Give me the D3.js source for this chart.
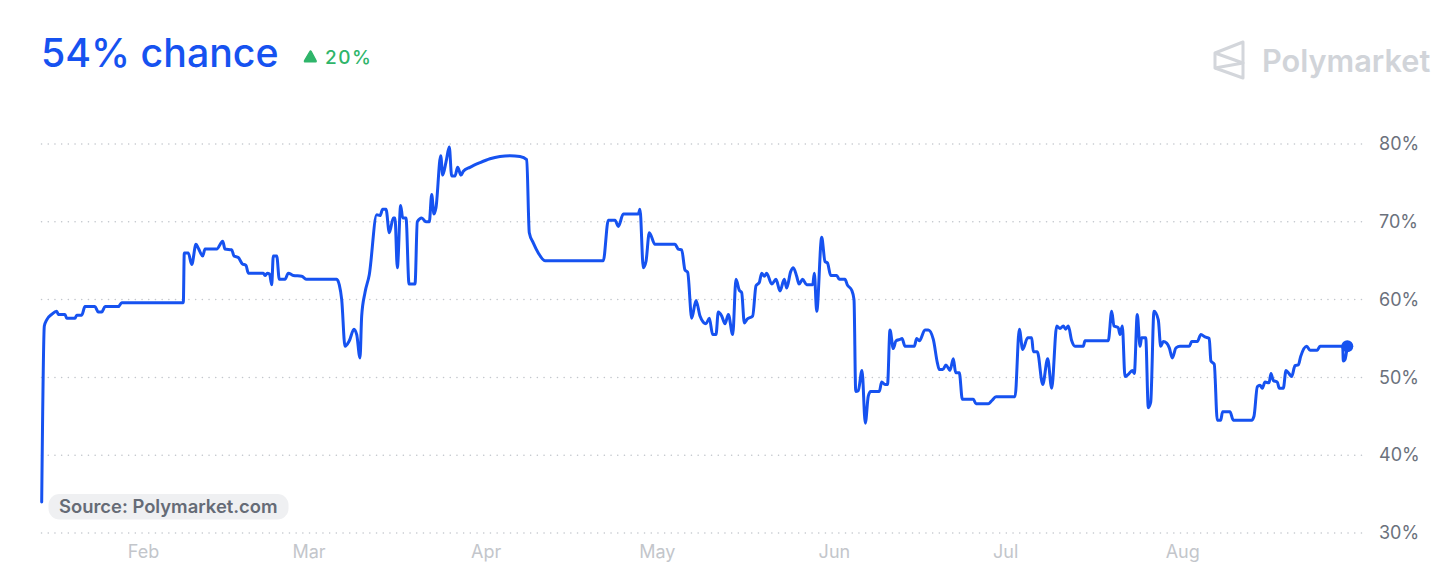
<!DOCTYPE html>
<html>
<head>
<meta charset="utf-8">
<script src="https://cdn.jsdelivr.net/npm/d3@7"></script>
<style>
  html, body { margin: 0; padding: 0; background: #ffffff; }
  svg { display: block; font-family: Inter, "Noto Sans", "DejaVu Sans", sans-serif; }
</style>
</head>
<body>
<svg id="chart" width="1456" height="584"></svg>
<script>
// Market probability history (percent), sampled as fractional days since 2024-01-14 (UTC)
const seriesStart = Date.UTC(2024, 0, 14);
const seriesEnd = Date.UTC(2024, 7, 30);

const dayOffsets = [
  0, 0.46, 0.88, 1.75, 2.63, 2.91, 4.08, 4.38, 5.83, 6.13,
  7.01, 7.58, 9.33, 9.91, 10.51, 11.09, 13.42, 14.01, 24.80, 24.97,
  25.67, 26.27, 27.02, 27.43, 28.20, 28.60, 30.65, 31.70, 32.10, 33.27,
  33.68, 34.43, 35.13, 35.78, 36.18, 38.81, 39.11, 39.51, 39.90, 40.28,
  40.56, 41.16, 41.61, 42.61, 43.19, 44.06, 45.53, 46.41, 51.66, 52.12,
  52.54, 53.12, 53.87, 54.69, 55.17, 55.74, 56.04, 56.62, 57.37, 58.67,
  59.25, 59.72, 60.30, 60.88, 61.58, 61.87, 62.28, 62.87, 63.22, 63.80,
  64.33, 65.38, 65.78, 66.55, 67.30, 67.88, 68.30, 68.70, 69.05, 69.88,
  70.23, 70.81, 71.38, 71.80, 72.38, 72.85, 73.43, 73.84, 75.00, 76.76,
  78.51, 80.26, 82.01, 83.77, 84.94, 85.39, 86.09, 86.97, 88.14, 98.35,
  99.23, 100.40, 100.98, 101.86, 104.48, 104.78, 105.36, 105.83, 106.41, 107.41,
  110.91, 111.49, 112.08, 112.66, 113.13, 113.84, 114.59, 115.29, 115.87, 116.34,
  116.92, 117.51, 118.09, 118.49, 119.09, 119.67, 120.25, 121.02, 121.59, 122.17,
  122.59, 123.05, 123.57, 124.52, 125.10, 125.67, 126.09, 126.55, 126.97, 127.85,
  128.60, 129.30, 130.05, 130.47, 131.17, 131.63, 132.22, 132.63, 133.27, 133.98,
  135.03, 135.31, 135.73, 136.60, 137.18, 137.62, 138.18, 139.23, 139.68, 140.68,
  141.09, 141.86, 142.26, 142.56, 143.01, 143.66, 144.24, 144.76, 145.18, 146.69,
  147.11, 147.69, 148.13, 148.56, 149.14, 149.61, 150.32, 150.67, 151.19, 152.82,
  153.24, 153.70, 154.69, 155.27, 156.15, 156.85, 157.20, 157.79, 158.37, 159.07,
  159.65, 160.07, 160.70, 161.23, 163.15, 163.63, 165.78, 166.37, 167.13, 170.46,
  171.21, 171.80, 172.68, 173.38, 173.66, 174.36, 175.31, 176.18, 176.88, 177.76,
  178.34, 178.91, 179.33, 179.79, 180.39, 180.96, 182.42, 182.71, 186.79, 187.39,
  187.79, 188.54, 188.84, 189.25, 189.72, 190.30, 191.00, 191.35, 191.87, 192.35,
  192.64, 193.35, 193.80, 194.22, 194.80, 195.55, 195.97, 196.43, 197.02, 197.48,
  198.00, 198.65, 199.35, 200.98, 201.40, 202.37, 203.02, 203.72, 204.47, 204.77,
  205.35, 205.88, 206.47, 206.82, 208.10, 208.68, 211.90, 212.31, 212.89, 213.36,
  213.77, 214.24, 214.94, 215.29, 215.69, 216.39, 216.74, 217.44, 217.92, 218.44,
  218.91, 219.49, 220.07, 220.49, 221.54, 222.12, 223.40, 223.87, 227.85, 227.95,
  228.25, 228.65
];

const chance = [
  34.0, 56.6, 57.4, 58.1, 58.5, 58.1, 58.1, 57.6, 57.6, 58.0,
  58.0, 59.1, 59.1, 58.4, 58.4, 59.1, 59.1, 59.6, 59.6, 66.0,
  66.0, 64.5, 67.1, 66.6, 65.6, 66.5, 66.5, 67.5, 66.5, 66.4,
  65.6, 65.4, 64.6, 64.4, 63.4, 63.4, 63.1, 63.4, 63.3, 61.9,
  65.6, 65.6, 62.6, 62.6, 63.4, 63.1, 63.0, 62.6, 62.6, 61.9,
  60.0, 54.0, 54.7, 56.2, 55.5, 52.5, 57.9, 60.9, 63.2, 70.9,
  70.8, 71.6, 71.6, 68.6, 70.5, 70.5, 64.1, 72.1, 70.5, 70.5,
  62.0, 62.0, 70.0, 70.5, 70.0, 70.0, 73.5, 71.0, 71.8, 78.5,
  76.0, 77.7, 79.6, 75.9, 75.9, 77.0, 76.0, 76.5, 77.0, 77.6,
  78.1, 78.4, 78.5, 78.4, 78.0, 68.6, 67.3, 66.0, 65.0, 65.0,
  70.2, 70.2, 69.4, 71.0, 71.0, 71.6, 64.1, 64.9, 68.6, 67.1,
  67.1, 66.5, 66.4, 63.8, 63.5, 57.6, 59.9, 57.9, 57.1, 56.9,
  57.6, 55.5, 55.5, 58.4, 57.9, 56.9, 58.1, 55.5, 62.6, 61.2,
  60.9, 57.0, 57.5, 57.9, 61.8, 62.2, 63.4, 63.0, 63.4, 62.0,
  62.6, 61.1, 62.6, 61.5, 63.6, 64.1, 63.0, 62.0, 62.6, 61.9,
  61.9, 63.4, 58.5, 68.0, 64.9, 64.7, 63.1, 63.1, 62.6, 62.6,
  61.9, 61.2, 60.0, 48.2, 48.3, 50.9, 44.1, 47.6, 48.2, 48.2,
  49.4, 49.1, 49.1, 56.1, 53.7, 54.7, 54.9, 55.0, 54.0, 54.0,
  55.0, 54.7, 56.1, 56.1, 54.9, 51.9, 51.0, 51.0, 51.6, 50.9,
  52.4, 50.6, 50.6, 47.2, 47.2, 46.6, 46.6, 47.0, 47.5, 47.5,
  56.2, 53.6, 55.1, 55.1, 53.3, 53.3, 49.1, 52.4, 48.6, 56.6,
  56.3, 56.6, 56.2, 56.6, 54.7, 54.0, 54.0, 54.7, 54.7, 58.5,
  56.6, 56.4, 55.5, 56.6, 50.1, 50.4, 50.9, 50.5, 58.1, 54.0,
  55.1, 55.1, 46.1, 46.8, 58.5, 57.4, 54.0, 54.6, 54.4, 53.8,
  52.5, 53.8, 54.0, 54.0, 54.6, 54.6, 55.5, 55.2, 55.0, 52.1,
  51.7, 44.5, 44.5, 45.6, 45.6, 44.5, 44.5, 45.0, 48.8, 49.0,
  48.6, 49.4, 49.3, 50.5, 49.6, 49.4, 48.6, 48.6, 50.9, 50.5,
  50.1, 51.5, 51.6, 52.7, 54.0, 53.5, 53.5, 54.0, 54.0, 52.1,
  52.3, 54.0
];

const yTicks = [30, 40, 50, 60, 70, 80];
const headline = "54% chance";
const changeLabel = "20%";
const sourceLabel = "Source: Polymarket.com";
const brandLabel = "Polymarket";

const BLUE = "#1652f0";
const GREEN = "#2fb56a";

const data = dayOffsets.map((d, i) => ({
  date: new Date(seriesStart + d * 864e5),
  value: chance[i]
}));

const svg = d3.select("#chart");

const x = d3.scaleUtc()
  .domain([new Date(seriesStart), new Date(seriesEnd)])
  .range([41.7, 41.7 + 229 * 5.71]);

const y = d3.scaleLinear()
  .domain([30, 80])
  .range([533, 144]);

// Dotted horizontal gridlines
svg.append("g")
  .selectAll("line")
  .data(yTicks)
  .join("line")
  .attr("x1", 41.5)
  .attr("x2", 1366)
  .attr("y1", d => y(d))
  .attr("y2", d => y(d))
  .attr("stroke", "#c2c6cc")
  .attr("stroke-width", 1.5)
  .attr("stroke-linecap", "round")
  .attr("stroke-dasharray", "0.1,6.6");

// Right-hand percentage axis
const yAxis = svg.append("g")
  .attr("transform", "translate(1379,0)")
  .call(d3.axisRight(y).tickValues(yTicks).tickFormat(d => d + "%").tickSize(0).tickPadding(0));
yAxis.select(".domain").remove();
yAxis.selectAll("text")
  .attr("fill", "#6b717c")
  .style("font-size", "18px")
  .style("font-family", "Inter, 'Noto Sans', sans-serif");

// Month axis
const xAxis = svg.append("g")
  .attr("transform", "translate(0,558)")
  .call(d3.axisBottom(x).ticks(d3.utcMonth.every(1)).tickFormat(d3.utcFormat("%b")).tickSize(0).tickPadding(0));
xAxis.select(".domain").remove();
xAxis.selectAll("text")
  .attr("y", 0)
  .attr("dy", 0)
  .attr("x", -1.5)
  .attr("fill", "#c3c6cb")
  .style("font-size", "18px")
  .style("font-family", "Inter, 'Noto Sans', sans-serif");

// Price line
const line = d3.line()
  .x(d => x(d.date))
  .y(d => y(d.value))
  .curve(d3.curveMonotoneX);

svg.append("path")
  .datum(data)
  .attr("d", line)
  .attr("fill", "none")
  .attr("stroke", BLUE)
  .attr("stroke-width", 3)
  .attr("stroke-linejoin", "round")
  .attr("stroke-linecap", "round");

// Latest value marker
const last = data[data.length - 1];
svg.append("circle")
  .attr("cx", x(last.date))
  .attr("cy", y(last.value))
  .attr("r", 6)
  .attr("fill", BLUE);

// Headline
svg.append("text")
  .attr("x", 41)
  .attr("y", 67)
  .attr("fill", BLUE)
  .style("font-size", "39.3px")
  .style("font-weight", 500)
  .text(headline);

// Change indicator
svg.append("path")
  .attr("d", "M309.8,51.5 Q310.5,50.2 311.3,51.5 L316.1,60.6 Q316.7,62 315.3,62 L305.3,62 Q303.9,62 304.5,60.6 Z")
  .attr("fill", GREEN)
  .attr("stroke", GREEN)
  .attr("stroke-width", 1.2)
  .attr("stroke-linejoin", "round");

svg.append("text")
  .attr("x", 325)
  .attr("y", 63.5)
  .attr("fill", GREEN)
  .style("font-size", "19px")
  .style("font-weight", 500)
  .style("letter-spacing", "1.5px")
  .text(changeLabel);

// Brand mark
const brand = svg.append("g").attr("fill", "none").attr("stroke", "#d3d6db").attr("stroke-width", 3).attr("stroke-linejoin", "round");
brand.append("path").attr("d", "M1215,53 L1243,42 L1243,78 L1215,68 Z");
brand.append("path").attr("d", "M1215,53 L1243,63 L1215,68");

svg.append("text")
  .attr("x", 1262)
  .attr("y", 72)
  .attr("fill", "#d1d4d9")
  .style("font-size", "30.7px")
  .style("font-weight", 600)
  .text(brandLabel);

// Source badge
const badge = svg.append("g");
badge.append("rect")
  .attr("x", 48.5)
  .attr("y", 494)
  .attr("width", 240)
  .attr("height", 25.5)
  .attr("rx", 11)
  .attr("fill", "#eff0f2");
badge.append("text")
  .attr("x", 59)
  .attr("y", 513)
  .attr("fill", "#656b76")
  .style("font-size", "18.4px")
  .style("font-weight", 600)
  .text(sourceLabel);
</script>
</body>
</html>
